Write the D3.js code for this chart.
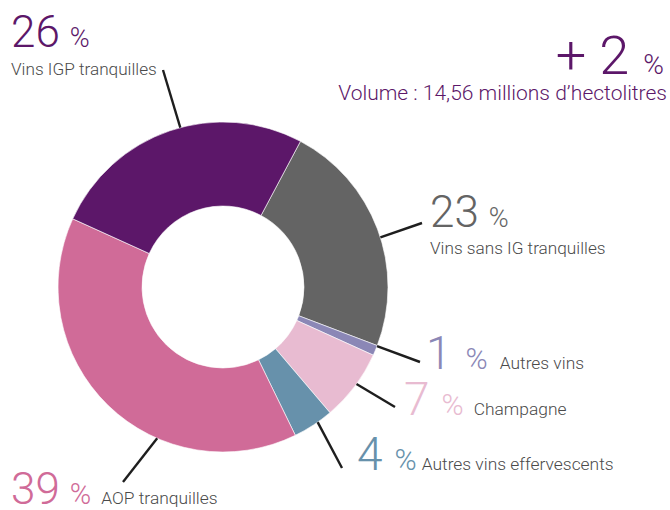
<!DOCTYPE html>
<html lang="fr">
<head>
<meta charset="utf-8">
<title>Volume : 14,56 millions d'hectolitres</title>
<script src="https://cdn.jsdelivr.net/npm/d3@7"></script>
<style>
  body { margin: 0; background: #fff; }
  svg { display: block; }
  text { font-family: Roboto, "Open Sans", sans-serif; }
</style>
</head>
<body>
<script>
// data
var categories = ["Vins sans IG tranquilles", "Autres vins", "Champagne",
                  "Autres vins effervescents", "AOP tranquilles", "Vins IGP tranquilles"];
var values = [23, 1, 7, 4, 39, 26];
var colors = ["#646464", "#8b87b6", "#e8bbd1", "#6791ab", "#d06b98", "#5c1769"];
var total = "+ 2";
var subtitle = "Volume : 14,56 millions d\u2019hectolitres";

var w = 670, h = 510;
var cx = 223, cy = 287;
var outerR = 165, innerR = 81;
var start = 28 * Math.PI / 180;

var svg = d3.select("body").append("svg")
    .attr("width", w)
    .attr("height", h);

var pie = d3.pie()
    .sort(null)
    .value(function(d) { return d; })
    .startAngle(start)
    .endAngle(start + 2 * Math.PI);

var arc = d3.arc()
    .innerRadius(innerR)
    .outerRadius(outerR);

var g = svg.append("g").attr("transform", "translate(" + cx + "," + cy + ")");

g.selectAll("path")
    .data(pie(values))
    .enter().append("path")
    .attr("d", arc)
    .attr("fill", function(d, i) { return colors[i]; })
    .attr("stroke", "#fff")
    .attr("stroke-width", 0.6);

// label layout: number position, label placement, leader line (angle on rim in degrees -> end point)
var layout = [
  {x: 430, y: 227, size: 44, pct: 27, gap: 10, below: true, lx: 430, ly: 254, ang: 72.5, ex: 422, ey: 223},
  {x: 426, y: 369, size: 46, pct: 30, gap: 14, below: false, lgap: 12, ang: 111, ex: 420, ey: 362},
  {x: 404, y: 415, size: 46, pct: 30, gap: 12, below: false, lgap: 10, ang: 126, ex: 395, ey: 407},
  {x: 357, y: 470, size: 46, pct: 30, gap: 12, below: false, lgap: 5, ang: 145, ex: 342, ey: 468},
  {x: 11, y: 504, size: 44, pct: 29, gap: 10, below: false, lgap: 10, ang: 203.5, ex: 123, ey: 482},
  {x: 11, y: 47, size: 44, pct: 27, gap: 10, below: true, lx: 11, ly: 75, ang: 345, ex: 163, ey: 70}
];

// leader lines
svg.selectAll("line.leader")
    .data(layout)
    .enter().append("line")
    .attr("class", "leader")
    .attr("x1", function(d) { return cx + outerR * Math.sin(d.ang * Math.PI / 180); })
    .attr("y1", function(d) { return cy - outerR * Math.cos(d.ang * Math.PI / 180); })
    .attr("x2", function(d) { return d.ex; })
    .attr("y2", function(d) { return d.ey; })
    .attr("stroke", "#1e1e1e")
    .attr("stroke-width", 2.4);

// value labels
layout.forEach(function(l, i) {
  var t = svg.append("text")
      .attr("x", l.x)
      .attr("y", l.y)
      .attr("fill", colors[i])
      .attr("font-weight", 300);
  t.append("tspan").attr("font-size", l.size).text(values[i]);
  t.append("tspan").attr("dx", l.gap).attr("font-size", l.pct).text("%");
  if (l.below) {
    svg.append("text")
        .attr("x", l.lx)
        .attr("y", l.ly)
        .attr("font-size", 17.2)
        .attr("font-weight", 300)
        .attr("fill", "#4a4a4a")
        .text(categories[i]);
  } else {
    t.append("tspan")
        .attr("dx", l.lgap)
        .attr("font-size", 17.4)
        .attr("fill", "#4a4a4a")
        .text(categories[i]);
  }
});

// total growth and volume
var tt = svg.append("text")
    .attr("x", 664)
    .attr("y", 74)
    .attr("text-anchor", "end")
    .attr("fill", "#5c1769")
    .attr("font-weight", 300);
tt.append("tspan").attr("font-size", 54).text(total);
tt.append("tspan").attr("dx", 14).attr("font-size", 28).text("%");

svg.append("text")
    .attr("x", 667)
    .attr("y", 100)
    .attr("text-anchor", "end")
    .attr("fill", "#5c1769")
    .attr("font-size", 21)
    .attr("font-weight", 300)
    .text(subtitle);
</script>
</body>
</html>
